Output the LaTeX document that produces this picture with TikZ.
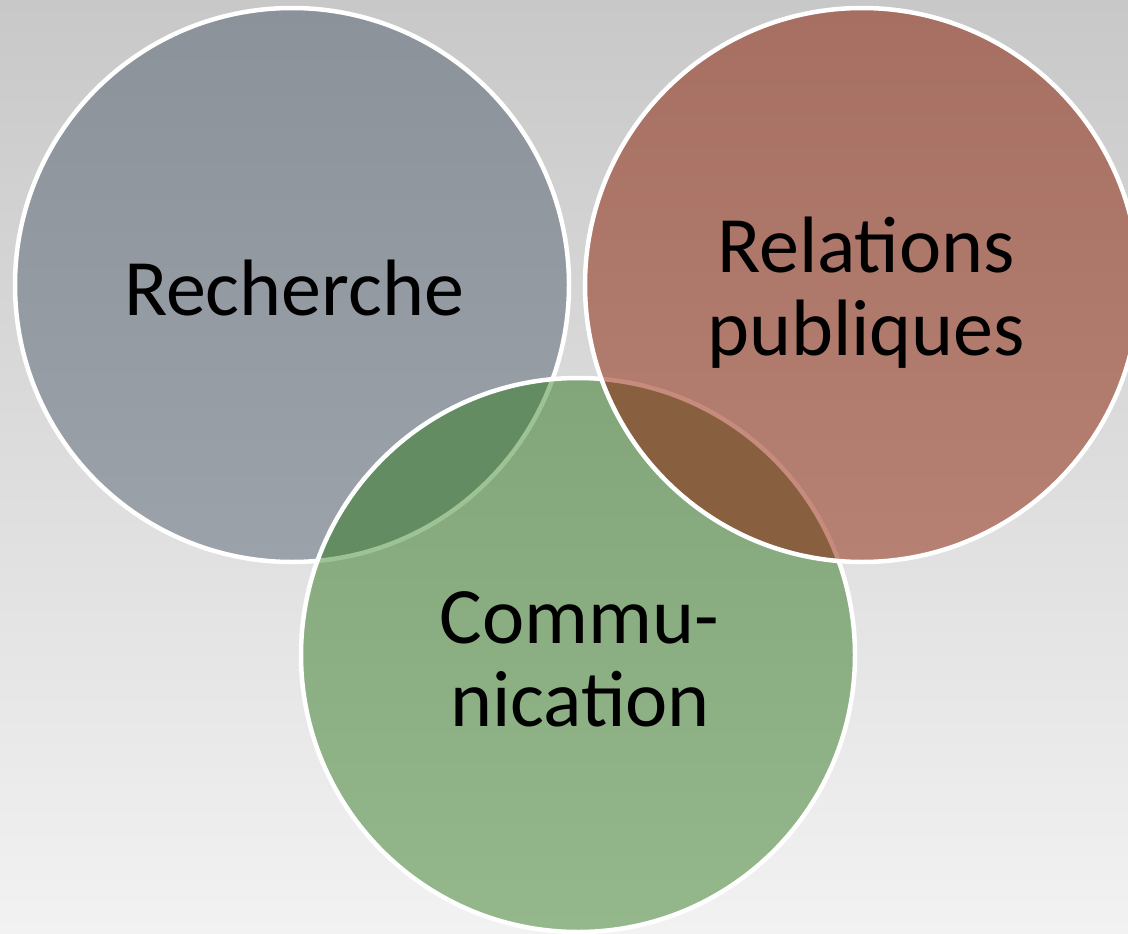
\documentclass[tikz,border=0pt]{standalone}
\usepackage{fontspec}
\setmainfont{Carlito}
\definecolor{bgtop}{HTML}{C8C8C8}
\definecolor{bgbot}{HTML}{F2F2F2}
\definecolor{grayT}{HTML}{8B929A}
\definecolor{grayB}{HTML}{9BA2A9}
\definecolor{greenT}{HTML}{82A67A}
\definecolor{greenB}{HTML}{94B78B}
\definecolor{redT}{HTML}{A66F62}
\definecolor{redB}{HTML}{B68173}
\definecolor{gglens}{HTML}{648C63}
\definecolor{grlens}{HTML}{88603F}
\definecolor{faintG}{HTML}{9DC395}
\definecolor{faintR}{HTML}{C68B7D}
\tikzset{
  venn/.style={circle, minimum size=554pt, inner sep=0pt},
  rim/.style={draw=white, line width=4.5pt},
  lbl/.style={font=\fontsize{80}{84}\selectfont, text=black, inner sep=0pt, anchor=base}
}
\begin{document}
\begin{tikzpicture}[x=1pt,y=-1pt]
\clip (0,0) rectangle (1128,934);
\shade[top color=bgtop, bottom color=bgbot] (0,0) rectangle (1128,934);
% circles as named nodes (geometry)
\node[venn] (rech) at (292,285) {};
\node[venn] (rel)  at (862,285) {};
\node[venn] (comm) at (578,655) {};
% Recherche
\shade[top color=grayT, bottom color=grayB] (rech.center) circle (277pt);
\draw[rim] (rech.center) circle (277pt);
% Communication
\shade[top color=greenT, bottom color=greenB] (comm.center) circle (277pt);
\begin{scope}
  \clip (comm.center) circle (277pt);
  \fill[gglens] (rech.center) circle (277pt);
  \draw[draw=faintG, line width=4.5pt] (rech.center) circle (277pt);
\end{scope}
\draw[rim] (comm.center) circle (277pt);
% Relations publiques
\shade[top color=redT, bottom color=redB] (rel.center) circle (277pt);
\begin{scope}
  \clip (rel.center) circle (277pt);
  \fill[grlens] (comm.center) circle (277pt);
  \draw[draw=faintR, line width=4.5pt] (comm.center) circle (277pt);
\end{scope}
\draw[rim] (rel.center) circle (277pt);
% labels
\node[lbl] (t1) at (294,315) {Recherche};
\node[lbl] (t2a) at (866,272) {Relations};
\node[lbl] (t2b) at (866,355) {publiques};
\node[lbl] (t3a) at (579,643) {Commu-};
\node[lbl] (t3b) at (580,726) {nication};
\end{tikzpicture}
\end{document}
